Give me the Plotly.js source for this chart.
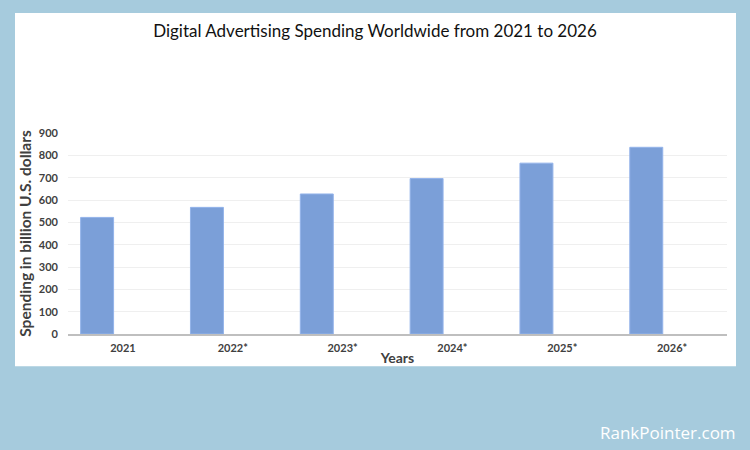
<!DOCTYPE html>
<html>
<head>
<meta charset="utf-8">
<script src="https://cdn.plot.ly/plotly-3.0.1.min.js"></script>
<style>html,body{margin:0;padding:0;background:#a6cbdd;}#chart{width:750px;height:450px;}</style>
</head>
<body>
<div id="chart"></div>
<script>
const years = ["2021", "2022*", "2023*", "2024*", "2025*", "2026*"];
const spending = [522, 567, 627, 696, 765, 836];
const yTicks = [0, 100, 200, 300, 400, 500, 600, 700, 800, 900];

const trace = {
  type: 'bar',
  x: years,
  y: spending,
  width: 0.3,
  offset: -0.385,
  marker: {color: '#7b9fd8', line: {color: '#93b3ea', width: 1}},
  hoverinfo: 'x+y'
};

const layout = {
  width: 750, height: 450,
  paper_bgcolor: '#a6cbdd',
  plot_bgcolor: 'rgba(0,0,0,0)',
  margin: {l: 68, r: 23, t: 133, b: 116},
  showlegend: false,
  title: {
    text: 'Digital Advertising Spending Worldwide from 2021 to 2026',
    font: {family: 'Lato, sans-serif', size: 17, color: '#111'},
    x: 0.5, xanchor: 'center', y: 0.93, yanchor: 'middle'
  },
  xaxis: {
    type: 'category',
    range: [-0.5, 5.5],
    showgrid: false,
    showline: true, linecolor: '#bfbfbf', linewidth: 2,
    ticks: '',
    ticklabelstandoff: 3,
    tickfont: {family: 'Lato, sans-serif', size: 11, color: '#404040', weight: 'bold'},
    title: {text: 'Years', standoff: 0, font: {family: 'Lato, sans-serif', size: 14, color: '#404040', weight: 'bold'}},
    fixedrange: true
  },
  yaxis: {
    range: [0, 900],
    tickvals: yTicks,
    showgrid: true, gridcolor: '#efefef', gridwidth: 1,
    zeroline: false,
    ticks: '',
    ticklabelstandoff: 9,
    tickfont: {family: 'Lato, sans-serif', size: 11, color: '#404040', weight: 'bold'},
    title: {text: 'Spending in billion U.S. dollars', standoff: 3, font: {family: 'Lato, sans-serif', size: 15.5, color: '#404040', weight: 'bold'}},
    fixedrange: true
  },
  shapes: [{
    type: 'rect', xref: 'paper', yref: 'paper', layer: 'below',
    x0: (15 - 68) / 659, x1: (736 - 68) / 659,
    y0: (333.7 - 366) / 201, y1: (333.7 - 12.7) / 201,
    fillcolor: '#ffffff', line: {width: 0}
  }],
  annotations: [{
    text: 'RankPointer.com', xref: 'paper', yref: 'paper', showarrow: false,
    x: (738 - 68) / 659, xanchor: 'right',
    y: (333.7 - 432) / 201, yanchor: 'middle',
    font: {family: 'Open Sans, sans-serif', size: 17, color: '#ffffff'}
  }]
};

Plotly.newPlot('chart', [trace], layout, {displayModeBar: false, staticPlot: true});
</script>
</body>
</html>
